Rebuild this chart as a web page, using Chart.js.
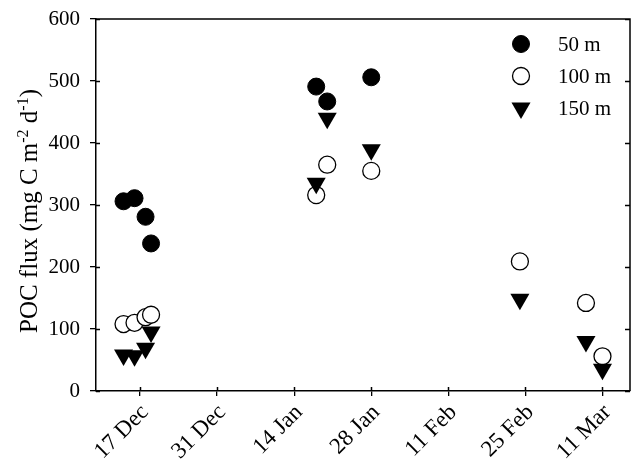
<!DOCTYPE html>
<html>
<head>
<meta charset="utf-8">
<script src="https://cdn.jsdelivr.net/npm/chart.js@4.4.0/dist/chart.umd.min.js"></script>
<style>
  html, body { margin: 0; padding: 0; background: #fff; }
  #wrap { width: 633px; height: 460px; }
</style>
</head>
<body>
<div id="wrap"><canvas id="chart"></canvas></div>
<script>
// Sampling days, counted from 17 Dec
const sampleDays = [-3, -1, 1, 2, 32, 34, 42, 69, 81, 84];

// POC flux (mg C m-2 d-1) at each depth, null = not sampled
const flux50 = [306, 311, 281, 238, 491, 467, 506, null, null, null];
const flux100 = [108, 110, 119, 123, 316, 365, 355, 209, 142, 56];
const flux150 = [58, 57, 69, 95, 335, 440, 389, 148, 80, 35];
const depthLabels = ['50 m', '100 m', '150 m'];

// x axis ticks (days from 17 Dec) and their labels
const tickDays = [0, 14, 28, 42, 56, 70, 84];
const tickLabels = ['17 Dec', '31 Dec', '14 Jan', '28 Jan', '11 Feb', '25 Feb', '11 Mar'];

const SERIF = "'Liberation Serif', 'Times New Roman', serif";
Chart.defaults.font.family = SERIF;
Chart.defaults.color = '#000';

function toPoints(values) {
  return sampleDays
    .map((d, i) => ({ x: d, y: values[i] }))
    .filter(p => p.y !== null);
}

// scales should not push the plot area in: the layout padding sets it
function dropScalePadding(scale) {
  scale.paddingLeft = scale.paddingRight = 0;
  scale.paddingTop = scale.paddingBottom = 0;
  if (scale._margins) {
    scale._margins.left = scale._margins.right = 0;
    scale._margins.top = scale._margins.bottom = 0;
  }
}

// Box round the plot, plus ticks that cross into the plot area
const framePlugin = {
  id: 'frame',
  beforeDatasetsDraw(chart) {
    const { ctx, chartArea: a, scales: { x, y } } = chart;
    ctx.save();
    ctx.strokeStyle = '#000';
    ctx.lineWidth = 1.5;
    ctx.beginPath();
    ctx.moveTo(a.left, a.top);
    ctx.lineTo(a.right, a.top);
    ctx.lineTo(a.right, a.bottom);
    y.ticks.forEach(t => {
      const py = Math.round(y.getPixelForValue(t.value)) + 0.5;
      ctx.moveTo(a.left, py);
      ctx.lineTo(a.left + 4, py);
      ctx.moveTo(a.right, py);
      ctx.lineTo(a.right - 5, py);
    });
    x.ticks.forEach(t => {
      const px = Math.round(x.getPixelForValue(t.value)) + 0.5;
      ctx.moveTo(px, a.bottom);
      ctx.lineTo(px, a.bottom - 4);
    });
    ctx.stroke();
    ctx.restore();
  }
};

// Y axis title with superscripts
const yTitlePlugin = {
  id: 'yTitle',
  afterDraw(chart) {
    const ctx = chart.ctx;
    const parts = [
      ['POC flux (mg C m', false],
      ['-2', true],
      [' d', false],
      ['-1', true],
      [')', false]
    ];
    const big = '25px ' + SERIF;
    const small = '16px ' + SERIF;
    ctx.save();
    ctx.fillStyle = '#000';
    ctx.textBaseline = 'alphabetic';
    let total = 0;
    parts.forEach(([txt, sup]) => {
      ctx.font = sup ? small : big;
      total += ctx.measureText(txt).width;
    });
    ctx.translate(37, 211);
    ctx.rotate(-Math.PI / 2);
    let cx = -total / 2;
    parts.forEach(([txt, sup]) => {
      ctx.font = sup ? small : big;
      ctx.fillText(txt, cx, sup ? -9 : 0);
      cx += ctx.measureText(txt).width;
    });
    ctx.restore();
  }
};

// Legend drawn inside the top right corner of the plot
const innerLegendPlugin = {
  id: 'innerLegend',
  afterDraw(chart) {
    const { ctx, chartArea: a } = chart;
    ctx.save();
    chart.data.datasets.forEach((ds, i) => {
      const ly = a.top + 25 + i * 32;
      const lx = a.right - 109;
      ctx.fillStyle = ds.pointBackgroundColor;
      ctx.strokeStyle = ds.pointBorderColor;
      ctx.lineWidth = ds.pointBorderWidth;
      Chart.helpers.drawPoint(ctx, {
        pointStyle: ds.pointStyle,
        rotation: ds.pointRotation || 0,
        radius: ds.pointRadius,
        borderWidth: ds.pointBorderWidth
      }, lx, ly);
      ctx.fillStyle = '#000';
      ctx.font = '21px ' + SERIF;
      ctx.textBaseline = 'middle';
      ctx.textAlign = 'left';
      ctx.fillText(ds.label, a.right - 72, ly + 1);
    });
    ctx.restore();
  }
};

const ctx = document.getElementById('chart');

new Chart(ctx, {
  type: 'scatter',
  data: {
    datasets: [
      {
        label: depthLabels[0],
        data: toPoints(flux50),
        pointStyle: 'circle',
        pointRadius: 8.5,
        pointBackgroundColor: '#000',
        pointBorderColor: '#000',
        pointBorderWidth: 1,
        order: 2
      },
      {
        label: depthLabels[1],
        data: toPoints(flux100),
        pointStyle: 'circle',
        pointRadius: 8.5,
        pointBackgroundColor: '#fff',
        pointBorderColor: '#000',
        pointBorderWidth: 1.3,
        order: 1
      },
      {
        label: depthLabels[2],
        data: toPoints(flux150),
        pointStyle: 'triangle',
        pointRotation: 180,
        pointRadius: 11,
        pointBackgroundColor: '#000',
        pointBorderColor: '#000',
        pointBorderWidth: 0,
        order: 0
      }
    ]
  },
  options: {
    responsive: true,
    maintainAspectRatio: false,
    animation: false,
    events: [],
    layout: {
      autoPadding: false,
      padding: { top: 19, right: 3, left: 0, bottom: 0 }
    },
    plugins: {
      legend: { display: false },
      tooltip: { enabled: false }
    },
    scales: {
      x: {
        type: 'linear',
        min: -8,
        max: 89,
        afterBuildTicks: scale => {
          scale.ticks = tickDays.map(v => ({ value: v }));
        },
        afterFit: scale => {
          scale.height = 69;
          dropScalePadding(scale);
        },
        ticks: {
          autoSkip: false,
          minRotation: 45,
          maxRotation: 45,
          padding: 3,
          labelOffset: 5,
          color: '#000',
          font: { size: 23, family: SERIF },
          callback: value => tickLabels[tickDays.indexOf(value)]
        },
        grid: {
          drawOnChartArea: false,
          drawTicks: true,
          tickLength: 5,
          color: '#000',
          lineWidth: 1.3
        },
        border: { display: true, color: '#000', width: 1.5 }
      },
      y: {
        min: 0,
        max: 600,
        afterFit: scale => {
          scale.width = 96;
          dropScalePadding(scale);
        },
        ticks: {
          stepSize: 100,
          padding: 10,
          color: '#000',
          font: { size: 21, family: SERIF }
        },
        grid: {
          drawOnChartArea: false,
          drawTicks: true,
          tickLength: 6,
          color: '#000',
          lineWidth: 1.3
        },
        border: { display: true, color: '#000', width: 1.5 }
      }
    }
  },
  plugins: [framePlugin, yTitlePlugin, innerLegendPlugin]
});
</script>
</body>
</html>
